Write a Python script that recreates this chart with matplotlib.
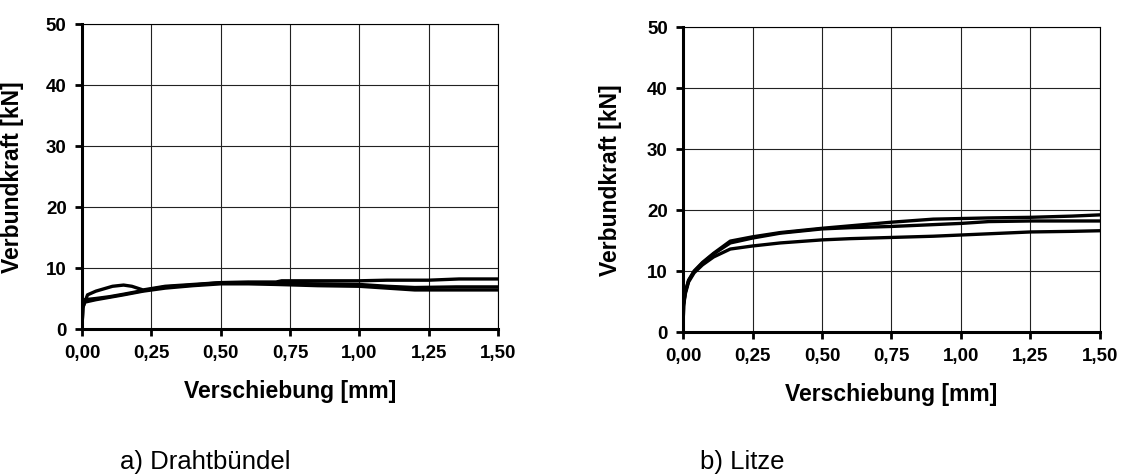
import matplotlib
matplotlib.use('Agg')
import matplotlib.pyplot as plt

plt.rcParams['font.family'] = ['Liberation Sans', 'DejaVu Sans']

# a) Drahtbündel - three test curves
draht_x1 = [0, 0.003, 0.02, 0.05, 0.11, 0.15, 0.18, 0.22, 0.3, 0.4, 0.5, 0.6, 0.7, 0.85, 1.0, 1.1, 1.2, 1.35, 1.5]
draht_y1 = [0, 3.5, 5.6, 6.2, 7.0, 7.2, 7.0, 6.4, 7.0, 7.3, 7.6, 7.6, 7.5, 7.4, 7.3, 7.0, 6.8, 6.9, 6.9]
draht_x2 = [0, 0.003, 0.01, 0.05, 0.1, 0.15, 0.22, 0.3, 0.4, 0.5, 0.6, 0.7, 0.72, 0.85, 1.0, 1.1, 1.25, 1.36, 1.5]
draht_y2 = [0, 3.8, 4.8, 5.0, 5.3, 5.7, 6.3, 6.9, 7.2, 7.6, 7.7, 7.7, 7.9, 7.9, 7.9, 8.0, 8.0, 8.2, 8.2]
draht_x3 = [0, 0.003, 0.01, 0.05, 0.1, 0.15, 0.22, 0.3, 0.4, 0.5, 0.6, 0.7, 0.85, 1.0, 1.1, 1.2, 1.35, 1.5]
draht_y3 = [0, 3.5, 4.4, 4.8, 5.2, 5.6, 6.2, 6.7, 7.1, 7.4, 7.4, 7.3, 7.1, 7.0, 6.7, 6.4, 6.4, 6.4]

# b) Litze - three test curves
litze_x = [0, 0.002, 0.008, 0.02, 0.04, 0.07, 0.11, 0.17, 0.25, 0.35, 0.5, 0.6, 0.75, 0.9, 1.0, 1.1, 1.25, 1.4, 1.5]
litze_y1 = [0, 4.5, 6.5, 8.5, 10.0, 11.4, 12.9, 14.9, 15.6, 16.3, 17.0, 17.4, 18.0, 18.5, 18.6, 18.7, 18.8, 19.0, 19.2]
litze_y2 = [0, 4.5, 6.5, 8.4, 9.9, 11.3, 12.8, 14.6, 15.4, 16.2, 16.9, 17.1, 17.3, 17.6, 17.8, 18.1, 18.2, 18.2, 18.2]
litze_y3 = [0, 4.2, 6.2, 8.2, 9.7, 11.0, 12.3, 13.6, 14.1, 14.6, 15.1, 15.3, 15.5, 15.7, 15.9, 16.1, 16.4, 16.5, 16.6]

x_ticks = [0, 0.25, 0.5, 0.75, 1.0, 1.25, 1.5]
x_ticklabels = ['0,00', '0,25', '0,50', '0,75', '1,00', '1,25', '1,50']
y_ticks = [0, 10, 20, 30, 40, 50]
y_ticklabels = ['0', '10', '20', '30', '40', '50']

fig = plt.figure(figsize=(11.23, 4.77), dpi=100)
ax1 = fig.add_axes([0.0730, 0.3082, 0.3704, 0.6394])
ax2 = fig.add_axes([0.6082, 0.3019, 0.3713, 0.6394])

ax1.plot(draht_x1, draht_y1, 'k-', linewidth=2.4)
ax1.plot(draht_x2, draht_y2, 'k-', linewidth=2.4)
ax1.plot(draht_x3, draht_y3, 'k-', linewidth=2.4)

ax2.plot(litze_x, litze_y1, 'k-', linewidth=2.4)
ax2.plot(litze_x, litze_y2, 'k-', linewidth=2.4)
ax2.plot(litze_x, litze_y3, 'k-', linewidth=2.4)

for ax, ylab_x in [(ax1, -0.139), (ax2, -0.147)]:
    ax.set_xlim(0, 1.5)
    ax.set_ylim(0, 50)
    ax.set_xticks(x_ticks)
    ax.set_xticklabels(x_ticklabels, fontsize=13.5, fontweight='bold')
    ax.set_yticks(y_ticks)
    ax.set_yticklabels(y_ticklabels, fontsize=13.5, fontweight='bold')
    ax.tick_params(direction='out', length=5, width=2, pad=6)
    ax.grid(True, color='#222222', linewidth=0.8)
    ax.spines['left'].set_linewidth(2.2)
    ax.spines['bottom'].set_linewidth(2.2)
    ax.spines['top'].set_linewidth(0.8)
    ax.spines['right'].set_linewidth(0.8)
    ax.set_xlabel('Verschiebung [mm]', fontsize=16.5, fontweight='bold')
    ax.set_ylabel('Verbundkraft [kN]', fontsize=16.5, fontweight='bold')
    ax.xaxis.set_label_coords(0.5, -0.164)
    ax.yaxis.set_label_coords(ylab_x, 0.5)

fig.text(120 / 1123, 1 - 469 / 477, 'a) Drahtbündel', fontsize=18.5, ha='left', va='baseline')
fig.text(700 / 1123, 1 - 469 / 477, 'b) Litze', fontsize=18.5, ha='left', va='baseline')

plt.savefig('out.png', dpi=100)
